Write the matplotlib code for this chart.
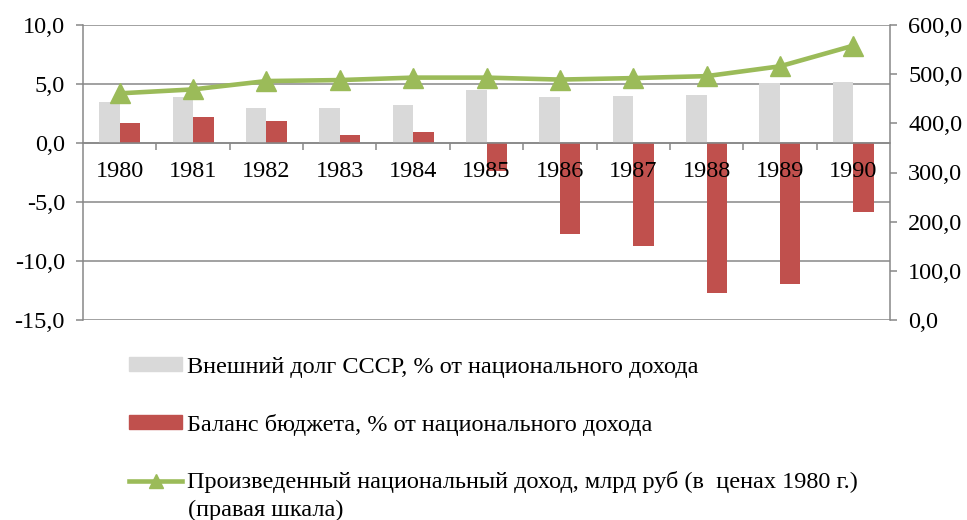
import numpy as np
import matplotlib.pyplot as plt
from matplotlib.ticker import FuncFormatter, FixedLocator
from matplotlib.patches import Patch
from matplotlib.lines import Line2D

plt.rcParams['font.family'] = ['Liberation Serif', 'DejaVu Serif']

years = ['1980', '1981', '1982', '1983', '1984', '1985', '1986', '1987', '1988', '1989', '1990']
debt = [3.5, 3.9, 3.0, 2.95, 3.2, 4.5, 3.9, 4.0, 4.05, 5.1, 5.2]
budget = [1.7, 2.2, 1.9, 0.65, 0.95, -2.35, -7.75, -8.75, -12.75, -11.95, -5.85]
income = [461, 469, 486, 488, 493, 493, 489, 492, 496, 516, 558]

labels = ['Внешний долг СССР, % от национального дохода',
          'Баланс бюджета, % от национального дохода',
          'Произведенный национальный доход, млрд руб (в  ценах 1980 г.)']
label_tail = '(правая шкала)'

GRAY = '#D9D9D9'
RED = '#C0504D'
GREEN = '#9BBB59'
AXC = '#878787'
FS = 17.5

def comma(v, pos):
    return f"{v:.1f}".replace('.', ',')

fig = plt.figure(figsize=(9.67, 5.2), dpi=100)
ax = fig.add_axes([83/967, 1-320/520, 807/967, 295/520])

x = np.arange(len(years))
w = 0.28
ax.bar(x - w/2, debt, w, color=GRAY, zorder=1)
ax.bar(x + w/2, budget, w, color=RED, zorder=1)

ax.set_xlim(-0.5, len(years) - 0.5)
ax.set_ylim(-15, 10)
yt = np.arange(-15, 10.1, 5)
ax.set_yticks(yt)
ax.yaxis.set_major_formatter(FuncFormatter(comma))
# gridlines behind the bars, axis labels stay on top of them
for v in yt:
    ax.axhline(v, color=AXC, lw=1.1, zorder=0)

# category axis sits on zero line
ax.spines['bottom'].set_position(('data', 0))
ax.spines['bottom'].set_color(AXC)
ax.spines['bottom'].set_linewidth(1.1)
ax.spines['left'].set_color(AXC)
ax.spines['left'].set_linewidth(1.1)
ax.spines['top'].set_visible(False)
ax.spines['right'].set_visible(False)
ax.set_xticks(x)
ax.set_xticklabels(years)
ax.xaxis.set_minor_locator(FixedLocator(np.arange(0.5, len(years) - 0.5, 1)))
ax.tick_params(axis='x', which='major', length=0, pad=13, labelsize=FS)
ax.tick_params(axis='x', which='minor', length=5, width=1.1, color=AXC, direction='out')
ax.tick_params(axis='y', length=5, width=1.1, color=AXC, pad=8, labelsize=FS)

ax2 = ax.twinx()
ax2.plot(x, income, color=GREEN, lw=3.3, marker='^', ms=14, zorder=3)
ax2.set_ylim(0, 600)
ax2.set_yticks(np.arange(0, 601, 100))
ax2.yaxis.set_major_formatter(FuncFormatter(comma))
ax2.tick_params(axis='y', length=5, width=1.1, color=AXC, pad=8, labelsize=FS)
for s in ['top', 'bottom', 'left']:
    ax2.spines[s].set_visible(False)
ax2.spines['right'].set_color(AXC)
ax2.spines['right'].set_linewidth(1.1)

handles = [Patch(color=GRAY), Patch(color=RED),
           Line2D([], [], color=GREEN, lw=3.3, marker='^', ms=10)]
fig.legend(handles, labels, loc='upper left', bbox_to_anchor=(129/967, 1-357/520),
           frameon=False, fontsize=FS, borderpad=0, borderaxespad=0,
           handlelength=2.2, handleheight=0.5, handletextpad=0.2,
           labelspacing=1.47, numpoints=1)
fig.text(188/967, 1-516/520, label_tail, fontsize=FS, va='baseline', ha='left')

fig.savefig('out.png', dpi=100, facecolor='white')
